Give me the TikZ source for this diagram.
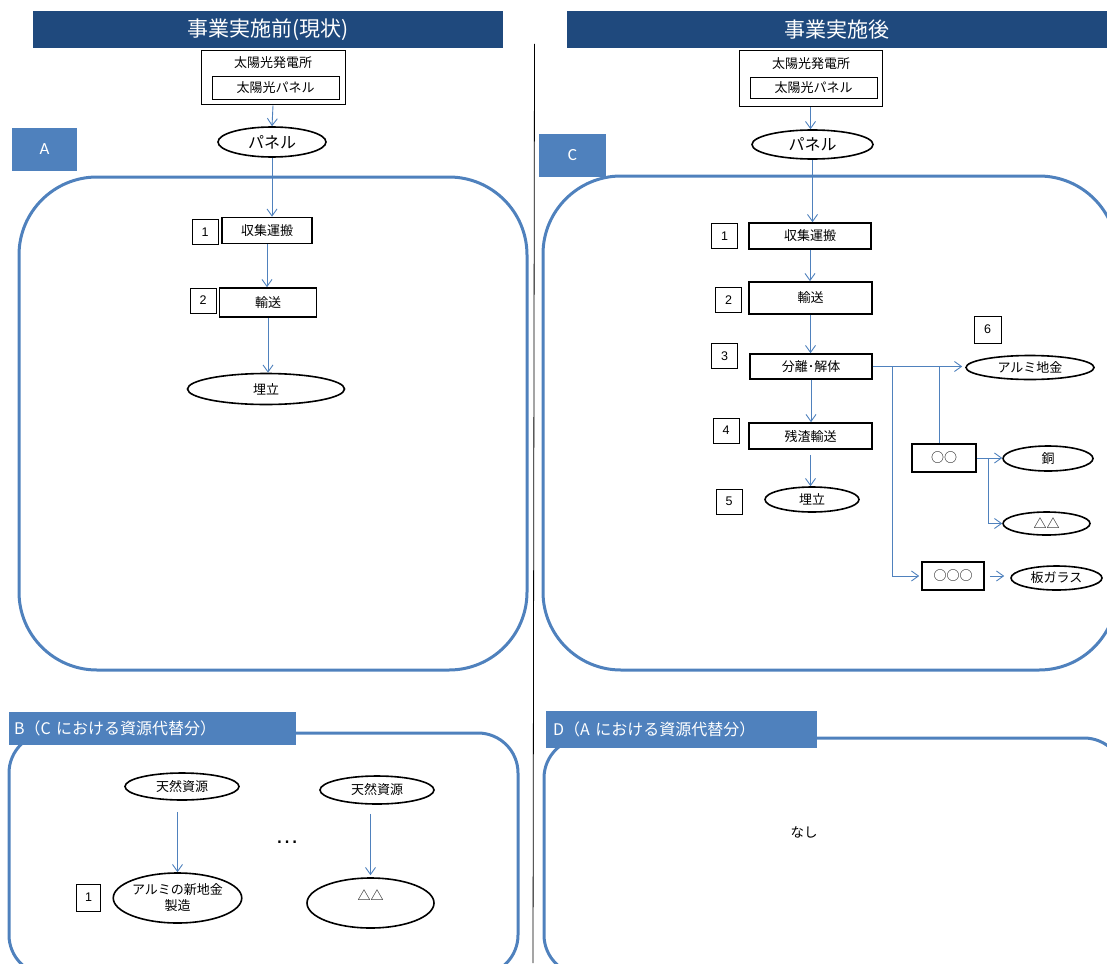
\documentclass[tikz,border=0pt]{standalone}
\usepackage{fontspec}
\setmainfont{Noto Sans CJK JP}
\newfontfamily\latina{Liberation Sans}
\newfontfamily\calib{Carlito}
\usetikzlibrary{arrows.meta,shapes.geometric,positioning}
\definecolor{azulosc}{RGB}{31,73,125}
\definecolor{azul}{RGB}{79,129,189}

\begin{document}
\begin{tikzpicture}[x=1pt, y=-1pt,
    texto/.style={inner sep=0pt, font=\fontsize{13}{16}\selectfont},
    caja/.style={draw, line width=1.6pt, texto},
    num/.style={draw, line width=0.7pt, inner sep=0pt, minimum width=26, minimum height=25, font=\latina\fontsize{12.5}{14}\selectfont},
    elip/.style={draw, ellipse, line width=1.6pt, texto},
    flecha/.style={draw=azul, line width=0.9pt, -{Straight Barb[length=7pt,width=10pt]}},
    linea/.style={draw=azul, line width=0.9pt},
    marco/.style={draw=azul, line width=3pt},
    pestana/.style={fill=azul, text=white, inner sep=0pt},
    titulo/.style={fill=azulosc, text=white, inner sep=0pt, font=\fontsize{21}{25}\selectfont}]
    \useasboundingbox (0,0) rectangle (1107,963);
    \clip (0,0) rectangle (1107,963);

    % Marcos redondeados
    \draw[marco, rounded corners=78] (19,177) rectangle (527,670);
    \draw[marco, rounded corners=78] (543,176) rectangle (1117,670);
    \draw[marco, rounded corners=40] (9,733) rectangle (518,975);
    \draw[marco, rounded corners=40] (544,738) rectangle (1124,975);

    % Titulos y linea divisoria
    \node[titulo, minimum width=470, minimum height=37] (titIzq) at (268,29.5) {事業実施前(現状)};
    \node[titulo, minimum width=541, minimum height=37] (titDer) at (837,29.5) {事業実施後};
    \coordinate (divA) at (534.5,44);
    \coordinate (divB) at (533,963);
    \draw[line width=0.8pt] (divA) -- (divB);

    % Pestanas
    \node[pestana, minimum width=65, minimum height=43, font=\calib\fontsize{17}{19}\selectfont] (tabA) at (44.5,149.5) {A};
    \node[pestana, minimum width=67, minimum height=43, font=\calib\fontsize{17}{19}\selectfont] (tabC) at (572.5,155.5) {C};
    \node[pestana, anchor=west, inner xsep=5pt, text width=277pt, minimum height=33, font=\fontsize{16}{19}\selectfont] (tabB) at (9,728.5) {B（C における資源代替分）};
    \node[pestana, anchor=west, inner xsep=7pt, text width=257pt, minimum height=37, font=\fontsize{16}{19}\selectfont] (tabD) at (546,729.5) {D（A における資源代替分）};

    % Antes: columna izquierda
    \node[caja, line width=1pt, minimum width=144, minimum height=54] (plantaL) at (273,78) {};
    \node[texto] (plantaLt) at (273,63) {太陽光発電所};
    \node[caja, line width=0.8pt, minimum width=127, minimum height=23] (panelesL) at (275.5,87.5) {太陽光パネル};
    \node[elip, minimum width=108, minimum height=30, font=\fontsize{16}{19}\selectfont] (panelL) at (272,142) {パネル};
    \node[caja, minimum width=90, minimum height=26] (recoL) at (267,230.5) {収集運搬};
    \node[num] (n1L) at (205,232) {1};
    \node[caja, minimum width=97, minimum height=29] (transL) at (268,302.5) {輸送};
    \node[num] (n2L) at (203,300.5) {2};
    \node[elip, minimum width=157, minimum height=31] (rellL) at (266,389) {埋立};

    \draw[flecha] (plantaL.south) -- (panelL.north);
    \draw[flecha] (panelL.south) -- (panelL.south |- recoL.north);
    \draw[flecha] (recoL.south) -- (recoL.south |- transL.north);
    \draw[flecha] (transL.south) -- (transL.south |- rellL.north);

    % Despues: columna derecha
    \node[caja, line width=1pt, minimum width=143, minimum height=56] (plantaR) at (810.5,79) {};
    \node[texto] (plantaRt) at (811,64) {太陽光発電所};
    \node[caja, line width=0.8pt, minimum width=127, minimum height=21] (panelesR) at (813.5,87.5) {太陽光パネル};
    \node[elip, minimum width=121, minimum height=29, font=\fontsize{16}{19}\selectfont] (panelR) at (812.5,144.5) {パネル};
    \node[caja, minimum width=122, minimum height=26] (recoR) at (810,236) {収集運搬};
    \node[num] (n1R) at (724.5,236) {1};
    \node[caja, minimum width=123, minimum height=32] (transR) at (810.5,298) {輸送};
    \node[num] (n2R) at (728.5,300) {2};
    \node[caja, minimum width=122, minimum height=25] (sepR) at (811,366.5) {分離･解体};
    \node[num] (n3R) at (724.5,356) {3};
    \node[caja, minimum width=123, minimum height=26] (resR) at (810.5,436) {残渣輸送};
    \node[num] (n4R) at (726,430.5) {4};
    \node[elip, minimum width=94, minimum height=25] (rellR) at (812,499.5) {埋立};
    \node[num] (n5R) at (729,501.5) {5};

    \node[elip, minimum width=128, minimum height=24] (aluR) at (1030,367.5) {アルミ地金};
    \node[num, minimum width=27, minimum height=27] (n6R) at (987.5,329.5) {6};
    \node[caja, minimum width=64, minimum height=28] (ooR) at (944,458) {○○};
    \node[elip, minimum width=90, minimum height=25] (cobreR) at (1048,458.5) {銅};
    \node[elip, minimum width=87, minimum height=23] (deltaR) at (1046.5,523.5) {△△};
    \node[caja, minimum width=62, minimum height=28] (oooR) at (953,576) {○○○};
    \node[elip, minimum width=91, minimum height=24] (vidrioR) at (1056.5,578) {板ガラス};

    \draw[flecha] (plantaR.south) -- (plantaR.south |- panelR.north);
    \draw[flecha] (panelR.south) -- (panelR.south |- recoR.north);
    \draw[flecha] (recoR.south) -- (recoR.south |- transR.north);
    \draw[flecha] (transR.south) -- (transR.south |- sepR.north);
    \draw[flecha] (sepR.south) -- (sepR.south |- resR.north);
    \draw[flecha, shorten <=5pt] (resR.south) -- (resR.south |- rellR.north);

    % Ramas de separacion
    \coordinate (ramaA) at (939,0 |- sepR.east);
    \coordinate (ramaC) at (892,0 |- sepR.east);
    \coordinate (ramaB) at (988,0 |- ooR.east);
    \draw[flecha, shorten >=3pt] (sepR.east) -- (sepR.east -| aluR.west);
    \draw[linea] (ramaA) -- (ramaA |- ooR.north);
    \draw[flecha, shorten >=2pt] (ramaC) |- (oooR.west);
    \draw[flecha] (ooR.east) -- (ooR.east -| cobreR.west);
    \draw[flecha] (ramaB) |- (deltaR.west);
    \draw[flecha, shorten <=5pt, shorten >=6pt] (oooR.east) -- (oooR.east -| vidrioR.west);

    % B: sustitucion de recursos
    \node[elip, minimum width=114, minimum height=27] (natA) at (182,786.5) {天然資源};
    \node[elip, minimum width=127, minimum height=50, align=center] (aluN) at (177.5,898) {アルミの新地金\\製造};
    \node[num, minimum width=24, minimum height=27] (n1B) at (88.5,897.5) {1};
    \node[elip, minimum width=114, minimum height=28] (natB) at (377,790) {天然資源};
    \node[elip, minimum width=127, minimum height=50, align=center] (deltaB) at (370.5,903) {△△\\~};
    \node[inner sep=0pt, font=\latina\fontsize{24}{26}\selectfont] (puntos) at (287,842) {…};

    \draw[flecha, shorten <=11pt] (natA.south -| aluN.north) -- (aluN.north);
    \draw[flecha, shorten <=9pt, shorten >=2pt] (natB.south -| deltaB.north) -- (deltaB.north);

    % D: sin sustitucion
    \node[texto, font=\fontsize{13.5}{15}\selectfont] (nada) at (804,832) {なし};
\end{tikzpicture}
\end{document}
